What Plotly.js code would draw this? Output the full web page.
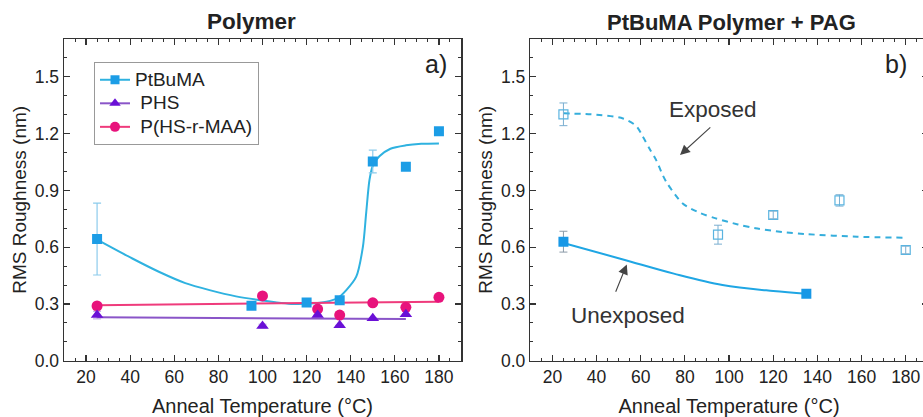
<!DOCTYPE html>
<html>
<head>
<meta charset="utf-8">
<script src="https://cdn.plot.ly/plotly-3.0.1.min.js"></script>
<style>
html,body{margin:0;padding:0;background:#fff;overflow:hidden;}
#wrap{width:923px;height:417px;overflow:hidden;position:relative;}
#plot{width:932px;height:417px;}
</style>
</head>
<body>
<div id="wrap"><div id="plot"></div></div>
<script>
// ---- Panel a) Polymer ----
const tempPtBuMA = [25, 95, 120, 135, 150, 165, 180];
const rmsPtBuMA  = [0.643, 0.29, 0.308, 0.32, 1.053, 1.025, 1.213];
const errPtBuMA  = [0.19, 0, 0, 0, 0.06, 0, 0];
const fitTPtBuMA = [25, 41, 53, 65, 76, 88, 99, 114, 122, 129, 134, 138, 142.5, 145.5, 147, 148.5, 150, 153, 158, 165, 172, 180];
const fitRPtBuMA = [0.64, 0.54, 0.47, 0.41, 0.373, 0.34, 0.32, 0.30, 0.302, 0.312, 0.33, 0.373, 0.444, 0.60, 0.78, 0.955, 1.03, 1.08, 1.12, 1.138, 1.146, 1.148];

const tempPHS = [25, 100, 125, 135, 150, 165];
const rmsPHS  = [0.241, 0.183, 0.241, 0.187, 0.224, 0.245];
const errPHS  = [0.02, 0.01, 0, 0, 0, 0];
const fitTPHS = [25, 165];
const fitRPHS = [0.229, 0.22];

const tempPHSMAA = [25, 100, 125, 135, 150, 165, 180];
const rmsPHSMAA  = [0.289, 0.342, 0.273, 0.241, 0.306, 0.282, 0.335];
const fitTPHSMAA = [25, 180];
const fitRPHSMAA = [0.293, 0.312];

const seriesNamesA = ['PtBuMA', ' PHS', ' P(HS-r-MAA)'];

// ---- Panel b) PtBuMA Polymer + PAG ----
const tempExposed = [25, 95, 120, 150, 180];
const rmsExposed  = [1.302, 0.666, 0.77, 0.847, 0.585];
const errExposed  = [0.06, 0.05, 0.02, 0.03, 0.02];
const fitTExposed = [25, 40, 52, 58, 61, 64, 67, 70, 72, 79, 87, 94, 104, 112, 124, 135, 158, 180];
const fitRExposed = [1.307, 1.30, 1.28, 1.24, 1.183, 1.12, 1.06, 0.98, 0.937, 0.831, 0.78, 0.752, 0.72, 0.70, 0.68, 0.669, 0.655, 0.65];

const tempUnexposed = [25, 135];
const rmsUnexposed  = [0.629, 0.354];
const errUnexposed  = [0.055, 0];
const fitTUnexposed = [25, 52, 75, 97, 120, 135];
const fitRUnexposed = [0.622, 0.535, 0.46, 0.40, 0.368, 0.354];

const xTickVals = [20, 40, 60, 80, 100, 120, 140, 160, 180];
const yTickVals = [0.0, 0.3, 0.6, 0.9, 1.2, 1.5];

// colours
const cBlueM = '#1c9de6', cBlueL = '#2fb2e0';
const cPurM = '#6a10d6', cPurL = '#8a55c8';
const cMagM = '#e8137c', cMagL = '#ef3b7c';

const F = 'Liberation Sans, Arial, sans-serif';
const legName = s => '<span style="font-size:19px">' + s + '</span>';

const traces = [
  // fits panel a
  {x: fitTPtBuMA, y: fitRPtBuMA, mode: 'lines', line: {color: cBlueL, width: 2, shape: 'spline', smoothing: 0.8}, showlegend: false, xaxis: 'x', yaxis: 'y'},
  {x: fitTPHS, y: fitRPHS, mode: 'lines', line: {color: cPurL, width: 2}, showlegend: false, xaxis: 'x', yaxis: 'y'},
  {x: fitTPHSMAA, y: fitRPHSMAA, mode: 'lines', line: {color: cMagL, width: 2}, showlegend: false, xaxis: 'x', yaxis: 'y'},
  // data panel a
  {x: tempPHSMAA, y: rmsPHSMAA, mode: 'markers', marker: {symbol: 'circle', size: 11, color: cMagM}, showlegend: false, xaxis: 'x', yaxis: 'y'},
  {x: tempPHS, y: rmsPHS, mode: 'markers', marker: {symbol: 'triangle-up', size: 11, color: cPurM},
   error_y: {type: 'data', array: errPHS, color: '#b8a0e0', thickness: 1, width: 4}, showlegend: false, xaxis: 'x', yaxis: 'y'},
  {x: tempPtBuMA, y: rmsPtBuMA, mode: 'markers', marker: {symbol: 'square', size: 10, color: cBlueM},
   error_y: {type: 'data', array: errPtBuMA, color: '#8ccbec', thickness: 1.2, width: 4}, showlegend: false, xaxis: 'x', yaxis: 'y'},
  // legend entries
  {x: [null], y: [null], name: legName(seriesNamesA[0]), mode: 'lines+markers', line: {color: cBlueL, width: 2}, marker: {symbol: 'square', size: 9, color: cBlueM}, xaxis: 'x', yaxis: 'y'},
  {x: [null], y: [null], name: legName(seriesNamesA[1]), mode: 'lines+markers', line: {color: cPurL, width: 2}, marker: {symbol: 'triangle-up', size: 10, color: cPurM}, xaxis: 'x', yaxis: 'y'},
  {x: [null], y: [null], name: legName(seriesNamesA[2]), mode: 'lines+markers', line: {color: cMagL, width: 2}, marker: {symbol: 'circle', size: 10, color: cMagM}, xaxis: 'x', yaxis: 'y'},
  // panel b
  {x: fitTExposed, y: fitRExposed, mode: 'lines', line: {color: '#35aedc', width: 2, dash: '6px,5px', shape: 'spline', smoothing: 0.8}, showlegend: false, xaxis: 'x2', yaxis: 'y2'},
  {x: fitTUnexposed, y: fitRUnexposed, mode: 'lines', line: {color: '#1fa6e4', width: 2, shape: 'spline'}, showlegend: false, xaxis: 'x2', yaxis: 'y2'},
  {x: tempExposed, y: rmsExposed, mode: 'markers', marker: {symbol: 'square-open', size: 9, color: '#5ab4e0', line: {width: 1.2}},
   error_y: {type: 'data', array: errExposed, color: '#7aaed0', thickness: 1, width: 4}, showlegend: false, xaxis: 'x2', yaxis: 'y2'},
  {x: tempUnexposed, y: rmsUnexposed, mode: 'markers', marker: {symbol: 'square', size: 10, color: '#1898e6'},
   error_y: {type: 'data', array: errUnexposed, color: '#8a9aa8', thickness: 1, width: 4}, showlegend: false, xaxis: 'x2', yaxis: 'y2'}
];

const W = 932, H = 417;
function xa(d0, d1, anchor) {
  return {
    domain: [d0 / W, d1 / W], anchor: anchor, range: [10, 190],
    tickmode: 'array', tickvals: xTickVals, ticktext: xTickVals.map(String),
    ticks: 'inside', ticklen: 6, tickwidth: 1.2, tickcolor: '#333',
    minor: {dtick: 5, tick0: 0, ticks: 'inside', ticklen: 3, tickcolor: '#333', tickwidth: 1},
    showline: true, linecolor: '#333', linewidth: 1.5, mirror: 'ticks',
    showgrid: false, zeroline: false,
    tickfont: {family: F, size: 17.5, color: '#222'},
    title: {text: 'Anneal Temperature (°C)', font: {family: F, size: 20, color: '#222'}, standoff: 13}
  };
}
function ya(anchor) {
  return {
    domain: [(H - 360.7) / H, (H - 39) / H], anchor: anchor, range: [0, 1.7],
    tickmode: 'array', tickvals: yTickVals, ticktext: yTickVals.map(v => v.toFixed(1)),
    ticks: 'inside', ticklen: 6, tickwidth: 1.2, tickcolor: '#333',
    minor: {dtick: 0.1, tick0: 0, ticks: 'inside', ticklen: 3, tickcolor: '#333', tickwidth: 1},
    showline: true, linecolor: '#333', linewidth: 1.5, mirror: 'ticks',
    showgrid: false, zeroline: false,
    tickfont: {family: F, size: 17.5, color: '#222'},
    title: {text: 'RMS Roughness (nm)', font: {family: F, size: 19, color: '#222'}, standoff: 3}
  };
}

const layout = {
  width: W, height: H,
  margin: {l: 0, r: 0, t: 0, b: 0},
  paper_bgcolor: '#fff', plot_bgcolor: '#fff',
  font: {family: F, color: '#222'},
  xaxis: xa(64, 461, 'y'), yaxis: ya('x'),
  xaxis2: xa(530.3, 927.8, 'y2'), yaxis2: ya('x2'),
  showlegend: true,
  legend: {
    x: 94 / W, y: (H - 62) / H, xanchor: 'left', yanchor: 'top',
    bgcolor: '#fff', bordercolor: '#999', borderwidth: 1,
    font: {family: F, size: 15.8, color: '#222'}, tracegroupgap: 0, itemwidth: 30
  },
  annotations: [
    {xref: 'paper', yref: 'paper', x: 251.7 / W, y: (H - 21.7) / H, text: '<b>Polymer</b>', showarrow: false, xanchor: 'center', yanchor: 'middle', font: {family: F, size: 22.5, color: '#222'}},
    {xref: 'paper', yref: 'paper', x: 731.7 / W, y: (H - 22) / H, text: '<b>PtBuMA Polymer + PAG</b>', showarrow: false, xanchor: 'center', yanchor: 'middle', font: {family: F, size: 22, color: '#222'}},
    {xref: 'paper', yref: 'paper', x: 435.5 / W, y: (H - 64) / H, text: 'a)', showarrow: false, xanchor: 'center', yanchor: 'middle', font: {family: F, size: 25, color: '#222'}},
    {xref: 'paper', yref: 'paper', x: 896 / W, y: (H - 64) / H, text: 'b)', showarrow: false, xanchor: 'center', yanchor: 'middle', font: {family: F, size: 25, color: '#222'}},
    {xref: 'x2', yref: 'y2', x: 92.9, y: 1.33, text: 'Exposed', showarrow: false, font: {family: F, size: 22.5, color: '#333'}},
    {xref: 'x2', yref: 'y2', x: 54.4, y: 0.241, text: 'Unexposed', showarrow: false, font: {family: F, size: 22.5, color: '#333'}},
    {xref: 'x2', yref: 'y2', axref: 'x2', ayref: 'y2', x: 77.8, y: 1.087, ax: 92.2, ay: 1.24, text: '', showarrow: true, arrowhead: 2, arrowsize: 1.8, arrowwidth: 1.1, arrowcolor: '#444'},
    {xref: 'x2', yref: 'y2', axref: 'x2', ayref: 'y2', x: 53.7, y: 0.509, ax: 48.4, ay: 0.356, text: '', showarrow: true, arrowhead: 2, arrowsize: 1.8, arrowwidth: 1.1, arrowcolor: '#444'}
  ]
};

Plotly.newPlot('plot', traces, layout, {displayModeBar: false, staticPlot: true});
</script>
</body>
</html>
